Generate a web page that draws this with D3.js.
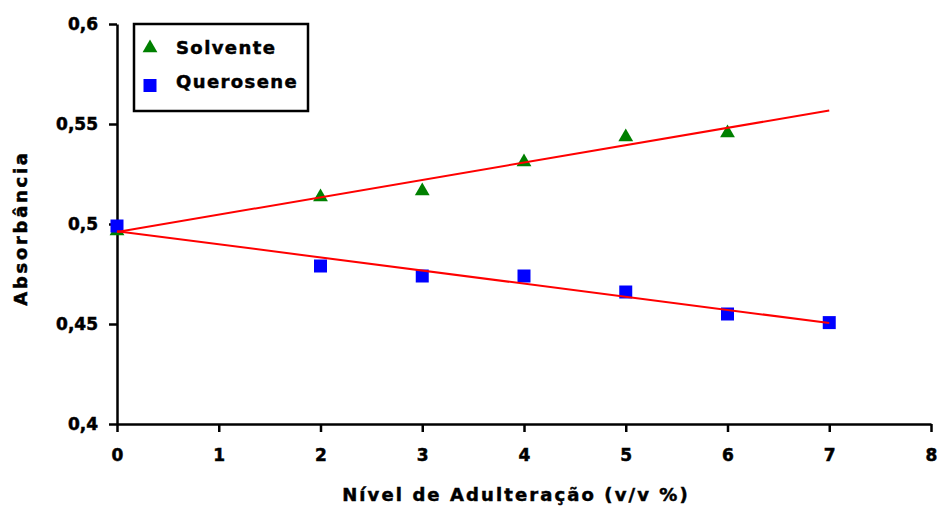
<!DOCTYPE html>
<html>
<head>
<meta charset="utf-8">
<script src="https://cdn.jsdelivr.net/npm/d3@7"></script>
<style>
  body { margin: 0; background: #fff; }
  text { font-family: "DejaVu Sans", Verdana, sans-serif; font-weight: bold; }
</style>
</head>
<body>
<script>
"use strict";
// data
const solventeX = [0, 2, 3, 4, 5, 6]
const solventeY = [0.497, 0.514, 0.517, 0.5315, 0.544, 0.546]
const queroseneX = [0, 2, 3, 4, 5, 6, 7]
const queroseneY = [0.499, 0.479, 0.474, 0.474, 0.466, 0.455, 0.4507]
const xTicks = [0, 1, 2, 3, 4, 5, 6, 7, 8]
const yTicks = [0.4, 0.45, 0.5, 0.55, 0.6]
const yTickLabels = ["0,4", "0,45", "0,5", "0,55", "0,6"]
const seriesNames = ["Solvente", "Querosene"]
const trendRange = [0, 7]

;(function(){
    const measurements = { width: 938, height: 506, left: 117, right: 931, top: 24, bottom: 424 }

    const svg = d3.select("body").append("svg")
        .attr("width", measurements.width)
        .attr("height", measurements.height)

    const scaleX = d3.scaleLinear().domain([0, 8]).range([measurements.left, measurements.right])
    const scaleY = d3.scaleLinear().domain([0.4, 0.6]).range([measurements.bottom, measurements.top])

    // thick black text like the original
    function heavy(sel, size, spacing) {
        sel.style("font-size", size + "px")
            .style("font-family", "'DejaVu Sans', sans-serif")
            .style("font-weight", "bold")
            .style("letter-spacing", spacing + "px")
            .attr("fill", "#000")
            .attr("stroke", "#000")
            .attr("stroke-width", 0.5)
    }

    // axes
    const xAxis = d3.axisBottom(scaleX).tickValues(xTicks).tickSize(8).tickSizeOuter(0).tickPadding(17)
    const yAxis = d3.axisLeft(scaleY).tickValues(yTicks).tickSize(8).tickSizeOuter(0).tickPadding(11)
        .tickFormat((d, i) => yTickLabels[i])

    const gx = svg.append("g")
        .attr("transform", `translate(0,${measurements.bottom})`)
        .call(xAxis)
    const gy = svg.append("g")
        .attr("transform", `translate(${measurements.left},0)`)
        .call(yAxis)

    ;[gx, gy].forEach(g => {
        g.select(".domain").attr("stroke", "#000").attr("stroke-width", 2.5)
        g.selectAll(".tick line").attr("stroke", "#000").attr("stroke-width", 2.5)
        g.selectAll(".tick text").call(heavy, 17, 0)
    })

    // axis titles
    svg.append("text")
        .attr("x", (measurements.left + measurements.right) / 2 - 8)
        .attr("y", 501)
        .attr("text-anchor", "middle")
        .call(heavy, 18, 2.1)
        .text("Nível de Adulteração (v/v %)")

    svg.append("text")
        .attr("transform", "translate(27,228) rotate(-90)")
        .attr("text-anchor", "middle")
        .call(heavy, 18, 2.7)
        .text("Absorbância")

    const triangle = d3.symbol().type(d3.symbolTriangle).size(95)
    const square = d3.symbol().type(d3.symbolSquare).size(169)

    // points
    svg.selectAll(".solv")
        .data(solventeX)
        .enter().append("path")
        .attr("class", "solv")
        .attr("d", triangle)
        .attr("transform", (d, i) => `translate(${scaleX(d)},${scaleY(solventeY[i]) + 1})`)
        .attr("fill", "#008000")

    svg.selectAll(".quer")
        .data(queroseneX)
        .enter().append("path")
        .attr("class", "quer")
        .attr("d", square)
        .attr("transform", (d, i) => `translate(${scaleX(d)},${scaleY(queroseneY[i])})`)
        .attr("fill", "#0000ff")

    // linear trend lines (least squares)
    function fit(xs, ys) {
        const mx = d3.mean(xs), my = d3.mean(ys)
        let sxy = 0, sxx = 0
        xs.forEach((x, i) => { sxy += (x - mx) * (ys[i] - my); sxx += (x - mx) * (x - mx) })
        const slope = sxy / sxx
        return { slope: slope, intercept: my - slope * mx }
    }

    const line = d3.line().x(d => scaleX(d[0])).y(d => scaleY(d[1]))
    ;[fit(solventeX, solventeY), fit(queroseneX, queroseneY)].forEach(f => {
        svg.append("path")
            .attr("d", line(trendRange.map(x => [x, f.intercept + f.slope * x])))
            .attr("fill", "none")
            .attr("stroke", "#ff0000")
            .attr("stroke-width", 2)
    })

    // legend
    const legend = svg.append("g")
    legend.append("rect")
        .attr("x", 134).attr("y", 24)
        .attr("width", 174).attr("height", 87)
        .attr("fill", "#fff")
        .attr("stroke", "#000")
        .attr("stroke-width", 2.5)

    legend.append("path")
        .attr("d", triangle)
        .attr("transform", "translate(150,48)")
        .attr("fill", "#008000")
    legend.append("path")
        .attr("d", square)
        .attr("transform", "translate(150,85.5)")
        .attr("fill", "#0000ff")

    legend.selectAll(".lt")
        .data(seriesNames)
        .enter().append("text")
        .attr("class", "lt")
        .attr("x", 176)
        .attr("y", (d, i) => 54 + i * 34)
        .call(heavy, 18, 1.4)
        .text(d => d)
})()
</script>
</body>
</html>
